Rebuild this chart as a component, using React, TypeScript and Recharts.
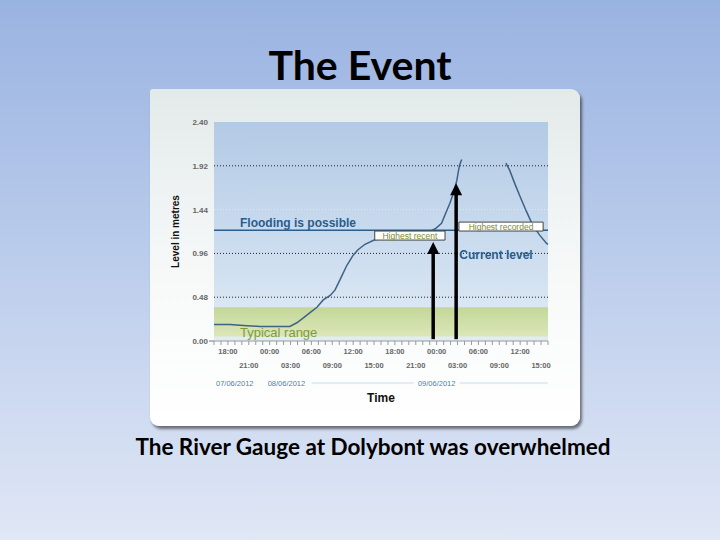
import React from 'react';
import {
  LineChart,
  Line,
  XAxis,
  YAxis,
  ReferenceArea,
  ReferenceLine,
  ReferenceDot,
} from 'recharts';

// hours after 16:00 on 07/06/2012
const hours = [
  0, 2.3, 4.2, 6.6, 9, 10.9, 11.9, 12.8, 13.8, 14.8, 15.7, 16.7, 17.4, 18.1, 19.1, 20, 20.7,
  21.7, 23.1, 25, 27, 29, 31, 31.8, 32.7, 33.4, 33.9, 34.4, 34.9, 35.1, 35.3, 35.6, 38.8,
  41.95, 42.5, 43.2, 44, 44.9, 45.8, 46.8, 47.8, 48,
];
// river level in metres (null = gauge gave no reading)
const levels = [
  0.18, 0.18, 0.17, 0.16, 0.16, 0.16, 0.2, 0.25, 0.31, 0.37, 0.45, 0.5, 0.56, 0.67, 0.83, 0.94, 1.0,
  1.06, 1.11, 1.13, 1.15, 1.17, 1.2, 1.23, 1.29, 1.42, 1.51, 1.62, 1.76, 1.85, 1.93, 1.99, null,
  1.95, 1.87, 1.73, 1.58, 1.42, 1.27, 1.16, 1.07, 1.06,
];

const levelTicks = [0, 0.48, 0.96, 1.44, 1.92, 2.4];
const hourTicks = Array.from({ length: 49 }, (_, i) => i);
const labelHours = [2, 5, 8, 11, 14, 17, 20, 23, 26, 29, 32, 35, 38, 41, 44, 47];
const timeLabels = [
  '18:00', '21:00', '00:00', '03:00', '06:00', '09:00', '12:00', '15:00',
  '18:00', '21:00', '00:00', '03:00', '06:00', '09:00', '12:00', '15:00',
];
const dateHours = [0, 8, 32];
const dateLabels = ['07/06/2012', '08/06/2012', '09/06/2012'];

const floodLevel = 1.215;
const typicalRange = [0.05, 0.37];
const highestRecent = { from: 23.1, to: 33.2, low: 1.106, high: 1.205 };
const highestRecorded = { from: 35.2, to: 47.3, low: 1.205, high: 1.303 };
const arrows = [
  { h: 31.5, tip: 1.084 },
  { h: 34.8, tip: 1.73 },
];

const data = hours.map((h, i) => ({ h, level: levels[i] }));

const FONT = 'Arial, "Liberation Sans", sans-serif';
const SLIDE_FONT = 'Lato, "Open Sans", sans-serif';
const BLUE_TEXT = '#2b5d8c';
const W = 430;
const H = 337;
const MARGIN = { top: 33, right: 32, left: 14, bottom: 55 };

const TimeTick = (props: any) => {
  const { x, y, payload } = props;
  const h = payload.value;
  const i = labelHours.indexOf(h);
  const d = dateHours.indexOf(h);
  return (
    <g fontFamily={FONT}>
      <line x1={x} x2={x} y1={y} y2={y + 4} stroke="#9a9a9a" />
      {i >= 0 && (
        <text
          x={x}
          y={y + (i % 2 === 0 ? 13 : 27)}
          textAnchor="middle"
          fontSize={7.5}
          fontWeight="bold"
          fill="#666"
        >
          {timeLabels[i]}
        </text>
      )}
      {d === 0 && (
        <text x={x + 2} y={y + 45} fontSize={7.5} fill="#4d7fb3">{dateLabels[d]}</text>
      )}
      {d === 1 && (
        <text x={x - 2} y={y + 45} fontSize={7.5} fill="#4d7fb3">{dateLabels[d]}</text>
      )}
      {d === 2 && (
        <g>
          <line x1={x - 125} x2={x - 23} y1={y + 42} y2={y + 42} stroke="#c6dbea" />
          <line x1={x + 23} x2={x + 111} y1={y + 42} y2={y + 42} stroke="#c6dbea" />
          <text x={x} y={y + 45} textAnchor="middle" fontSize={7.5} fill="#4d7fb3">{dateLabels[d]}</text>
        </g>
      )}
    </g>
  );
};

const LevelTick = (props: any) => {
  const { x, y, payload } = props;
  return (
    <g fontFamily={FONT}>
      {payload.value === 0 && <line x1={x - 5} x2={x} y1={y} y2={y} stroke="#777" />}
      <text x={x - 6} y={y + 3} textAnchor="end" fontSize={8} fontWeight="bold" fill="#666">
        {payload.value.toFixed(2)}
      </text>
    </g>
  );
};

const Arrowhead = (props: any) => {
  const { cx, cy } = props;
  return <path d={`M${cx},${cy} L${cx - 6},${cy + 12} L${cx + 6},${cy + 12} Z`} fill="#000" />;
};

const boxLabel = (text: string) => (props: any) => {
  const { viewBox } = props;
  return (
    <text
      x={viewBox.x + viewBox.width / 2}
      y={viewBox.y + viewBox.height / 2 + 3}
      textAnchor="middle"
      fontSize={8.5}
      fontFamily={FONT}
      fill="#7d8a30"
    >
      {text}
    </text>
  );
};

// both layers share this axis setup so the scales line up exactly
const axes = (visible: boolean) => [
  <XAxis
    key="x"
    type="number"
    dataKey="h"
    domain={[0, 48]}
    ticks={hourTicks}
    interval={0}
    tick={visible ? <TimeTick /> : false}
    tickLine={false}
    tickSize={0}
    tickMargin={0}
    axisLine={visible ? { stroke: '#9a9a9a' } : false}
    height={30}
    label={
      visible
        ? (props: any) => {
            const vb = props.viewBox;
            return (
              <text
                x={vb.x + vb.width / 2}
                y={vb.y + 61}
                textAnchor="middle"
                fontSize={12}
                fontWeight="bold"
                fontFamily={FONT}
                fill="#111"
              >
                Time
              </text>
            );
          }
        : undefined
    }
  />,
  <YAxis
    key="y"
    type="number"
    domain={[0, 2.4]}
    ticks={levelTicks}
    interval={0}
    width={50}
    tick={visible ? <LevelTick /> : false}
    tickLine={false}
    tickSize={0}
    tickMargin={0}
    axisLine={false}
    label={
      visible
        ? (props: any) => {
            const vb = props.viewBox;
            const cx = vb.x + 15;
            const cy = vb.y + vb.height / 2;
            return (
              <text
                x={cx}
                y={cy}
                transform={`rotate(-90 ${cx} ${cy})`}
                textAnchor="middle"
                fontSize={10}
                fontWeight="bold"
                fontFamily={FONT}
                fill="#111"
              >
                Level in metres
              </text>
            );
          }
        : undefined
    }
  />,
];

// gauge trace with axes, bands and guide lines
const GaugeChart = () => (
  <LineChart width={W} height={H} data={data} margin={MARGIN}>
    <defs>
      <linearGradient id="sky" x1="0" y1="0" x2="0" y2="1">
        <stop offset="0%" stopColor="#b3cae5" />
        <stop offset="65%" stopColor="#cfdff0" />
        <stop offset="100%" stopColor="#e2ecf5" />
      </linearGradient>
      <linearGradient id="meadow" x1="0" y1="0" x2="0" y2="1">
        <stop offset="0%" stopColor="#c3d798" />
        <stop offset="100%" stopColor="#dce7b8" />
      </linearGradient>
    </defs>
    {axes(true)}
    <ReferenceArea x1={0} x2={48} y1={0} y2={2.4} fill="url(#sky)" fillOpacity={1} stroke="none" />
    <ReferenceArea
      x1={0}
      x2={48}
      y1={typicalRange[0]}
      y2={typicalRange[1]}
      fill="url(#meadow)"
      fillOpacity={1}
      stroke="none"
    />
    <ReferenceLine y={1.92} stroke="#222" strokeDasharray="1 2" />
    <ReferenceLine y={1.44} stroke="#e4ebf3" strokeDasharray="1 2" />
    <ReferenceLine y={0.48} stroke="#222" strokeDasharray="1 2" />
    <ReferenceLine y={0.96} stroke="#222" strokeDasharray="1 2" />
    <ReferenceLine y={floodLevel} stroke="#2d5c88" strokeWidth={1.5} />
    <Line
      type="linear"
      dataKey="level"
      stroke="#3e6286"
      strokeWidth={1.5}
      dot={false}
      connectNulls={false}
      isAnimationActive={false}
    />
  </LineChart>
);

// annotations drawn over the trace, on the same scales
const AnnotationLayer = () => (
  <LineChart width={W} height={H} data={data} margin={MARGIN}>
    {axes(false)}
    <Line
      type="linear"
      dataKey="level"
      stroke="none"
      strokeOpacity={0}
      dot={false}
      isAnimationActive={false}
    />
    <ReferenceArea
      x1={0}
      x2={48}
      y1={typicalRange[0]}
      y2={typicalRange[1]}
      fillOpacity={0}
      stroke="none"
      label={(props: any) => (
        <text
          x={props.viewBox.x + 26}
          y={props.viewBox.y + props.viewBox.height + 1}
          fontSize={13}
          fontFamily={FONT}
          fill="#7f9b3a"
        >
          Typical range
        </text>
      )}
    />
    <ReferenceLine
      y={0.96}
      stroke="none"
      label={(props: any) => (
        <text
          x={props.viewBox.x + props.viewBox.width - 52}
          y={props.viewBox.y + 6}
          textAnchor="middle"
          fontSize={12}
          fontWeight="bold"
          fontFamily={FONT}
          fill={BLUE_TEXT}
        >
          Current level
        </text>
      )}
    />
    <ReferenceLine
      y={floodLevel}
      stroke="none"
      label={(props: any) => (
        <text
          x={props.viewBox.x + 26}
          y={props.viewBox.y - 3}
          fontSize={12}
          fontWeight="bold"
          fontFamily={FONT}
          fill={BLUE_TEXT}
        >
          Flooding is possible
        </text>
      )}
    />
    <ReferenceArea
      x1={highestRecent.from}
      x2={highestRecent.to}
      y1={highestRecent.low}
      y2={highestRecent.high}
      fill="#ffffff"
      fillOpacity={1}
      stroke="#444"
      label={boxLabel('Highest recent')}
    />
    <ReferenceArea
      x1={highestRecorded.from}
      x2={highestRecorded.to}
      y1={highestRecorded.low}
      y2={highestRecorded.high}
      fill="#ffffff"
      fillOpacity={1}
      stroke="#444"
      label={boxLabel('Highest recorded')}
    />
    {arrows.map((a, i) => (
      <ReferenceLine
        key={`shaft-${i}`}
        segment={[
          { x: a.h, y: 0.02 },
          { x: a.h, y: a.tip - 0.1 },
        ]}
        stroke="#000"
        strokeWidth={3.5}
      />
    ))}
    {arrows.map((a, i) => (
      <ReferenceDot key={`head-${i}`} x={a.h} y={a.tip} r={6} shape={<Arrowhead />} />
    ))}
  </LineChart>
);

const App = () => {
  return (
    <div
      style={{
        position: 'absolute',
        left: 0,
        top: 0,
        width: 720,
        height: 540,
        background: 'linear-gradient(#99b3e1, #c4d3ee 60%, #e0e7f5)',
        overflow: 'hidden',
      }}
    >
      <div
        style={{
          position: 'absolute',
          left: 0,
          width: 720,
          top: 40,
          textAlign: 'center',
          fontFamily: SLIDE_FONT,
          fontSize: 41,
          fontWeight: 'bold',
          lineHeight: '50px',
          color: '#000',
        }}
      >
        The Event
      </div>

      <div
        style={{
          position: 'absolute',
          left: 150,
          top: 89,
          width: W,
          height: H,
          borderRadius: '3px 9px 9px 9px',
          background: 'linear-gradient(#e3eaea, #f7f9f9 55%, #ffffff)',
          boxShadow: '2px 3px 3px rgba(0,0,0,0.5)',
        }}
      >
        <div style={{ position: 'absolute', left: 0, top: 0 }}>
          <GaugeChart />
        </div>
        <div style={{ position: 'absolute', left: 0, top: 0, pointerEvents: 'none' }}>
          <AnnotationLayer />
        </div>
      </div>

      <div
        style={{
          position: 'absolute',
          left: 0,
          width: 746,
          top: 432,
          textAlign: 'center',
          fontFamily: SLIDE_FONT,
          fontSize: 22.5,
          fontWeight: 'bold',
          lineHeight: '30px',
          color: '#000',
        }}
      >
        The River Gauge at Dolybont was overwhelmed
      </div>
    </div>
  );
};

export default App;
